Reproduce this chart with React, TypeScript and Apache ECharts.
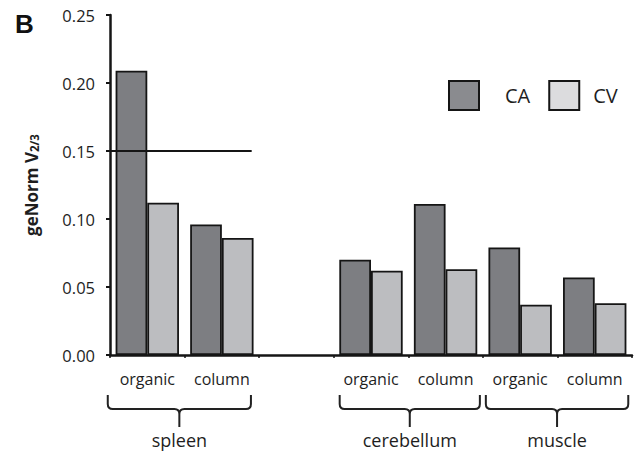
import React, { useEffect, useRef } from 'react';
import * as echarts from 'echarts';

const categories = ['organic', 'column', '', 'organic', 'column', 'organic', 'column'];
const caValues = [0.209, 0.096, null, 0.07, 0.111, 0.079, 0.057];
const cvValues = [0.112, 0.086, null, 0.062, 0.063, 0.037, 0.038];
const groups = ['spleen', 'cerebellum', 'muscle'];
const groupSpans = [
  [-0.03, 1.89],
  [3.08, 4.96],
  [5.04, 6.95],
];
const thresholdValue = 0.15;
const thresholdSpan = [-0.07, 1.9];

const FONT = '"Open Sans", "Noto Sans", sans-serif';
const TXT = '#1e1e1e';
const INK = '#151515';

export default function App() {
  const ref = useRef<HTMLDivElement>(null);
  useEffect(() => {
    if (!ref.current) return;
    const chart = echarts.init(ref.current, null, { renderer: 'svg' });
    chart.setOption({
      animation: false,
      backgroundColor: '#ffffff',
      textStyle: { fontFamily: FONT },
      grid: { left: 110, right: 5, top: 15, bottom: 97, containLabel: false },
      graphic: [
        {
          type: 'text',
          left: 15,
          top: 11,
          style: { text: 'B', fontFamily: '"Liberation Sans", Arial, sans-serif', fontWeight: 'bold', fontSize: 26, fill: '#111' },
        },
      ],
      legend: {
        left: 448,
        top: 80,
        padding: 0,
        orient: 'horizontal',
        width: 189,
        icon: 'rect',
        itemWidth: 30,
        itemHeight: 29,
        itemGap: 18,
        textStyle: { fontSize: 20, color: TXT, fontFamily: FONT, padding: [0, 0, 0, 21] },
        data: [
          { name: 'CA', itemStyle: { color: '#8a8b8f', borderColor: INK, borderWidth: 2 } },
          {
            name: 'CV',
            itemStyle: { color: '#dcdcde', borderColor: INK, borderWidth: 2 },
            textStyle: { fontSize: 20, color: TXT, fontFamily: FONT, padding: [0, 0, 0, 9] },
          },
        ],
      },
      xAxis: [
        {
          type: 'category',
          data: categories,
          axisLine: { lineStyle: { color: INK, width: 2.5 } },
          axisTick: { show: true, length: 3, lineStyle: { color: INK, width: 1.5 } },
          axisLabel: { fontSize: 16, color: TXT, margin: 16, fontFamily: FONT, interval: 0 },
        },
        { type: 'value', min: 0, max: 7, show: false },
      ],
      yAxis: {
        type: 'value',
        min: 0,
        max: 0.25,
        interval: 0.05,
        splitLine: { show: false },
        axisLine: { show: true, lineStyle: { color: INK, width: 2.5 } },
        axisTick: { show: true, length: 4, lineStyle: { color: INK, width: 2 } },
        axisLabel: { fontSize: 16.5, color: TXT, margin: 15, fontFamily: FONT, formatter: (v: number) => v.toFixed(2) },
        name: '{a|geNorm V}{b|2/3}',
        nameLocation: 'middle',
        nameGap: 70,
        nameTextStyle: {
          rich: {
            a: { fontSize: 17, fontWeight: 'bold', fontFamily: FONT, color: TXT, lineHeight: 20, verticalAlign: 'bottom' },
            b: { fontSize: 11.5, fontWeight: 'bold', fontFamily: FONT, color: TXT, lineHeight: 8, verticalAlign: 'bottom' },
          },
        },
      },
      series: [
        {
          name: 'CA',
          type: 'bar',
          data: caValues,
          barGap: '0%',
          barCategoryGap: '15%',
          itemStyle: { color: '#7d7e82', borderColor: INK, borderWidth: 1.8 },
        },
        {
          name: 'CV',
          type: 'bar',
          data: cvValues,
          itemStyle: { color: '#bcbdc0', borderColor: INK, borderWidth: 1.8 },
        },
        {
          name: 'threshold',
          type: 'line',
          xAxisIndex: 1,
          clip: false,
          symbol: 'none',
          lineStyle: { color: INK, width: 2 },
          data: [
            [thresholdSpan[0], thresholdValue],
            [thresholdSpan[1], thresholdValue],
          ],
          z: 5,
        },
        {
          name: 'groups',
          type: 'custom',
          xAxisIndex: 1,
          clip: false,
          data: groupSpans,
          renderItem: (params: any, api: any) => {
            const s = api.value(0);
            const e = api.value(1);
            const p1 = api.coord([s, 0]);
            const p2 = api.coord([e, 0]);
            const x1 = p1[0];
            const x2 = p2[0];
            const y0 = p1[1];
            const xm = (x1 + x2) / 2;
            const t = y0 + 40;
            const h = y0 + 54;
            const tip = y0 + 72;
            const r = 5;
            const d = `M${x1} ${t} L${x1} ${h - r} Q${x1} ${h} ${x1 + r} ${h} L${xm - r} ${h} Q${xm} ${h} ${xm} ${h + r} L${xm} ${tip} M${xm} ${h + r} Q${xm} ${h} ${xm + r} ${h} L${x2 - r} ${h} Q${x2} ${h} ${x2} ${h - r} L${x2} ${t}`;
            return {
              type: 'group',
              children: [
                { type: 'path', shape: { pathData: d }, style: { fill: 'none', stroke: '#222', lineWidth: 2 } },
                {
                  type: 'text',
                  x: xm,
                  y: y0 + 85,
                  style: {
                    text: groups[params.dataIndex],
                    fontSize: 18,
                    fontFamily: FONT,
                    fill: TXT,
                    align: 'center',
                    verticalAlign: 'middle',
                  },
                },
              ],
            };
          },
        },
      ],
    });
    return () => chart.dispose();
  }, []);
  return <div ref={ref} style={{ width: 637, height: 452, position: 'absolute', left: 0, top: 0 }} />;
}
